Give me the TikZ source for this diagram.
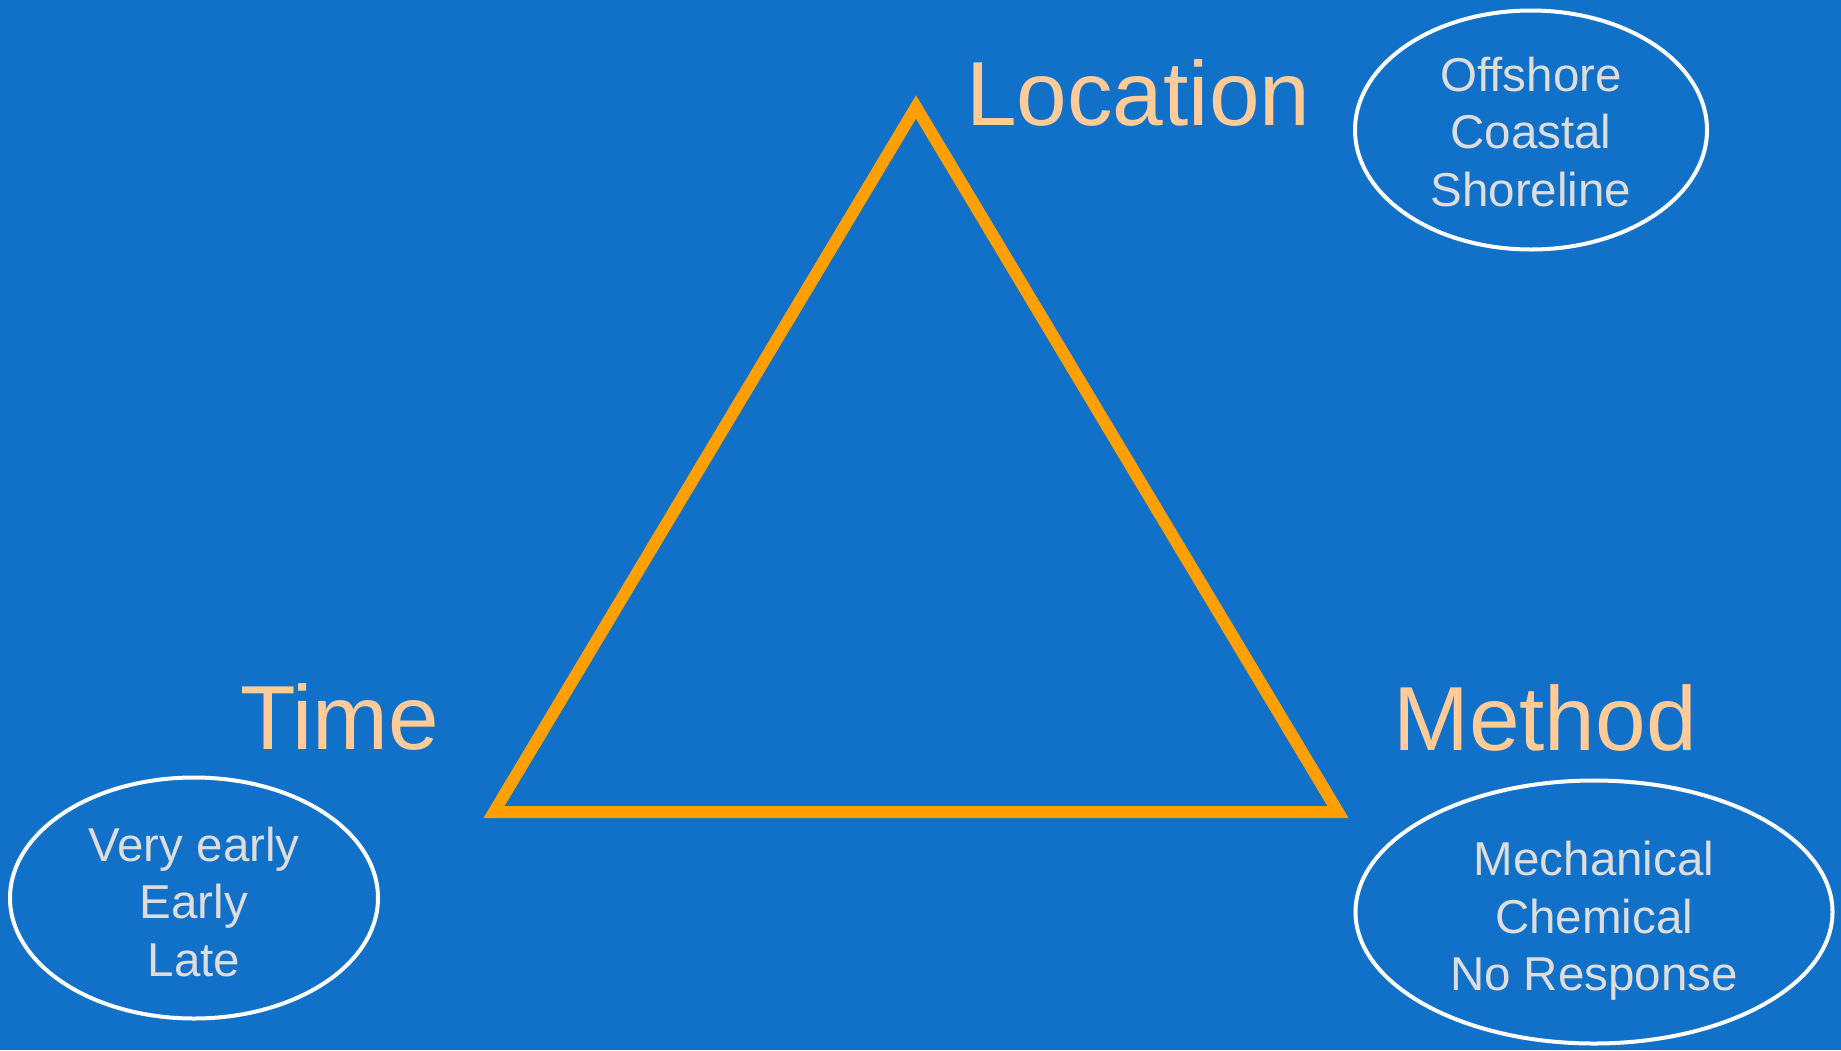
\documentclass[tikz,border=0pt]{standalone}
\usepackage{fontspec}
\setmainfont{Liberation Sans}
\usepackage{tikz}
\usetikzlibrary{shapes.geometric}

\definecolor{slideBlue}{RGB}{17,112,200}
\definecolor{triOrange}{RGB}{255,160,0}
\definecolor{labelPeach}{RGB}{255,204,153}
\definecolor{itemGray}{RGB}{221,221,221}

\begin{document}
\begin{tikzpicture}[
        x=1pt, y=-1pt,
        corner/.style={font=\fontsize{91}{100}\selectfont, text=labelPeach, anchor=base west, inner sep=0pt},
        oval/.style={ellipse, draw=white, line width=4pt, inner sep=0pt},
        items/.style={text=itemGray, align=center, font=\fontsize{47.5}{57.5}\selectfont, inner sep=0pt}
    ]

        % === DEFINITIONS & COORDINATES ===
        \def\picW{1841}  % Width of the slide
        \def\picH{1050}  % Height of the slide
        \def\baseY{812}  % Base line of the triangle

        \coordinate (Top) at (916, 107);
        \coordinate (Left) at (494, \baseY);
        \coordinate (Right) at (1338, \baseY);

        % === 1. BACKGROUND ===
        \useasboundingbox (0,0) rectangle (\picW, \picH);
        \fill[slideBlue] (0,0) rectangle (\picW, \picH);

        % === 2. THE TRIANGLE ===
        \draw[triOrange, line width=12pt, miter limit=4] (Top) -- (Left) -- (Right) -- cycle;

        % === 3. CORNER LABELS ===
        \node[corner] (location) at (966, 125) {Location};
        \node[corner] (time) at (240, 749) {Time};
        \node[corner] (method) at (1393, 750) {Method};

        % === 4. OPTION OVALS ===
        \node[oval, minimum width=352, minimum height=239] (locOval) at (1531, 130) {};
        \node[items] (locOpts) at (1531, 132) {Offshore\\ Coastal\\ Shoreline};

        \node[oval, minimum width=368, minimum height=241] (timeOval) at (194, 898) {};
        \node[items] (timeOpts) at (194, 902) {Very early\\ Early\\ Late};

        \node[oval, minimum width=477, minimum height=263] (methOval) at (1594, 912) {};
        \node[items] (methOpts) at (1594, 921) {Mechanical\\ Chemical\\ No Response};

    \end{tikzpicture}
\end{document}
